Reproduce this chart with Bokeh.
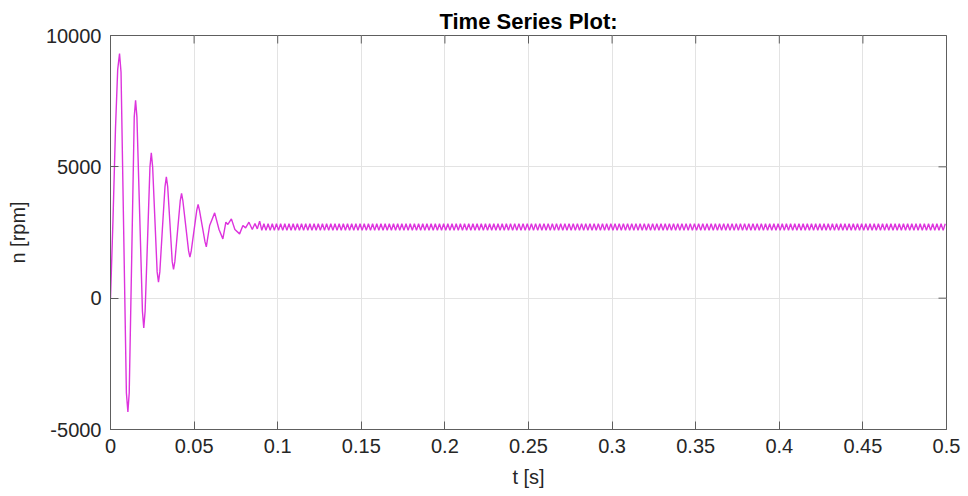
import math
from bokeh.plotting import figure
from bokeh.models import Range1d, FixedTicker, CustomJSTickFormatter, ColumnDataSource
from bokeh.embed import file_html
from bokeh.resources import INLINE

title_text = "Time Series Plot:"
x_label = "t [s]"
y_label = "n [rpm]"
x_ticks = [0, 0.05, 0.1, 0.15, 0.2, 0.25, 0.3, 0.35, 0.4, 0.45, 0.5]
y_ticks = [-5000, 0, 5000, 10000]

# transient part: points (time in ms, speed in rpm)
transient_t_ms = [0, 1.5, 3.0, 4.3, 5.4,
                  6.3, 7.9, 9.5, 10.4,
                  11.2, 12.7, 14.2, 15.0,
                  15.8, 17.45, 19.1, 19.9,
                  20.7, 22.15, 23.6, 24.4,
                  25.2, 26.55, 27.9, 28.7,
                  29.5, 31.0, 32.6, 33.4,
                  34.2, 35.55, 36.9, 37.7,
                  38.5, 40.1, 41.7, 42.5,
                  43.3, 45.0, 46.7, 47.5,
                  48.3, 49.9, 51.6, 52.4,
                  53.2, 54.85, 56.5, 57.3,
                  59.3, 62.3, 64.9, 67.2, 69.0, 70.2, 72.3, 74.4, 77.2, 79.2,
                  80.8, 82.8, 84.8, 86.4, 87.8, 89.2]
transient_n_rpm = [0, 3000, 6500, 8700, 9315,
                   8600, 2500, -3600, -4328,
                   -3600, 1600, 6900, 7537,
                   6900, 3200, -500, -1130,
                   -500, 2200, 5000, 5531,
                   5000, 3000, 1000, 609,
                   1000, 2600, 4250, 4618,
                   4250, 2850, 1400, 1091,
                   1400, 2550, 3700, 3985,
                   3700, 2750, 1800, 1560,
                   1800, 2550, 3350, 3566,
                   3350, 2750, 2150, 1954,
                   2767, 3247, 2615, 2257, 2893, 2805, 3019, 2615, 2448, 2767,
                   2676, 2893, 2615, 2843, 2638, 2931]

# steady-state ripple: turning points (time in ms)
ripple_t_ms = [
    90.5, 91.75, 93, 94.25, 95.5, 96.75, 98, 99.25,
    100.5, 101.75, 103, 104.25, 105.5, 106.75, 108, 109.25,
    110.5, 111.75, 113, 114.25, 115.5, 116.75, 118, 119.25,
    120.5, 121.75, 123, 124.25, 125.5, 126.75, 128, 129.25,
    130.5, 131.75, 133, 134.25, 135.5, 136.75, 138, 139.25,
    140.5, 141.75, 143, 144.25, 145.5, 146.75, 148, 149.25,
    150.5, 151.75, 153, 154.25, 155.5, 156.75, 158, 159.25,
    160.5, 161.75, 163, 164.25, 165.5, 166.75, 168, 169.25,
    170.5, 171.75, 173, 174.25, 175.5, 176.75, 178, 179.25,
    180.5, 181.75, 183, 184.25, 185.5, 186.75, 188, 189.25,
    190.5, 191.75, 193, 194.25, 195.5, 196.75, 198, 199.25,
    200.5, 201.75, 203, 204.25, 205.5, 206.75, 208, 209.25,
    210.5, 211.75, 213, 214.25, 215.5, 216.75, 218, 219.25,
    220.5, 221.75, 223, 224.25, 225.5, 226.75, 228, 229.25,
    230.5, 231.75, 233, 234.25, 235.5, 236.75, 238, 239.25,
    240.5, 241.75, 243, 244.25, 245.5, 246.75, 248, 249.25,
    250.5, 251.75, 253, 254.25, 255.5, 256.75, 258, 259.25,
    260.5, 261.75, 263, 264.25, 265.5, 266.75, 268, 269.25,
    270.5, 271.75, 273, 274.25, 275.5, 276.75, 278, 279.25,
    280.5, 281.75, 283, 284.25, 285.5, 286.75, 288, 289.25,
    290.5, 291.75, 293, 294.25, 295.5, 296.75, 298, 299.25,
    300.5, 301.75, 303, 304.25, 305.5, 306.75, 308, 309.25,
    310.5, 311.75, 313, 314.25, 315.5, 316.75, 318, 319.25,
    320.5, 321.75, 323, 324.25, 325.5, 326.75, 328, 329.25,
    330.5, 331.75, 333, 334.25, 335.5, 336.75, 338, 339.25,
    340.5, 341.75, 343, 344.25, 345.5, 346.75, 348, 349.25,
    350.5, 351.75, 353, 354.25, 355.5, 356.75, 358, 359.25,
    360.5, 361.75, 363, 364.25, 365.5, 366.75, 368, 369.25,
    370.5, 371.75, 373, 374.25, 375.5, 376.75, 378, 379.25,
    380.5, 381.75, 383, 384.25, 385.5, 386.75, 388, 389.25,
    390.5, 391.75, 393, 394.25, 395.5, 396.75, 398, 399.25,
    400.5, 401.75, 403, 404.25, 405.5, 406.75, 408, 409.25,
    410.5, 411.75, 413, 414.25, 415.5, 416.75, 418, 419.25,
    420.5, 421.75, 423, 424.25, 425.5, 426.75, 428, 429.25,
    430.5, 431.75, 433, 434.25, 435.5, 436.75, 438, 439.25,
    440.5, 441.75, 443, 444.25, 445.5, 446.75, 448, 449.25,
    450.5, 451.75, 453, 454.25, 455.5, 456.75, 458, 459.25,
    460.5, 461.75, 463, 464.25, 465.5, 466.75, 468, 469.25,
    470.5, 471.75, 473, 474.25, 475.5, 476.75, 478, 479.25,
    480.5, 481.75, 483, 484.25, 485.5, 486.75, 488, 489.25,
    490.5, 491.75, 493, 494.25, 495.5, 496.75, 498, 499.25,
]
ripple_n_rpm = [
    2580, 2830, 2580, 2830, 2580, 2830, 2580, 2830,
    2580, 2830, 2580, 2830, 2580, 2830, 2580, 2830,
    2580, 2830, 2580, 2830, 2580, 2830, 2580, 2830,
    2580, 2830, 2580, 2830, 2580, 2830, 2580, 2830,
    2580, 2830, 2580, 2830, 2580, 2830, 2580, 2830,
    2580, 2830, 2580, 2830, 2580, 2830, 2580, 2830,
    2580, 2830, 2580, 2830, 2580, 2830, 2580, 2830,
    2580, 2830, 2580, 2830, 2580, 2830, 2580, 2830,
    2580, 2830, 2580, 2830, 2580, 2830, 2580, 2830,
    2580, 2830, 2580, 2830, 2580, 2830, 2580, 2830,
    2580, 2830, 2580, 2830, 2580, 2830, 2580, 2830,
    2580, 2830, 2580, 2830, 2580, 2830, 2580, 2830,
    2580, 2830, 2580, 2830, 2580, 2830, 2580, 2830,
    2580, 2830, 2580, 2830, 2580, 2830, 2580, 2830,
    2580, 2830, 2580, 2830, 2580, 2830, 2580, 2830,
    2580, 2830, 2580, 2830, 2580, 2830, 2580, 2830,
    2580, 2830, 2580, 2830, 2580, 2830, 2580, 2830,
    2580, 2830, 2580, 2830, 2580, 2830, 2580, 2830,
    2580, 2830, 2580, 2830, 2580, 2830, 2580, 2830,
    2580, 2830, 2580, 2830, 2580, 2830, 2580, 2830,
    2580, 2830, 2580, 2830, 2580, 2830, 2580, 2830,
    2580, 2830, 2580, 2830, 2580, 2830, 2580, 2830,
    2580, 2830, 2580, 2830, 2580, 2830, 2580, 2830,
    2580, 2830, 2580, 2830, 2580, 2830, 2580, 2830,
    2580, 2830, 2580, 2830, 2580, 2830, 2580, 2830,
    2580, 2830, 2580, 2830, 2580, 2830, 2580, 2830,
    2580, 2830, 2580, 2830, 2580, 2830, 2580, 2830,
    2580, 2830, 2580, 2830, 2580, 2830, 2580, 2830,
    2580, 2830, 2580, 2830, 2580, 2830, 2580, 2830,
    2580, 2830, 2580, 2830, 2580, 2830, 2580, 2830,
    2580, 2830, 2580, 2830, 2580, 2830, 2580, 2830,
    2580, 2830, 2580, 2830, 2580, 2830, 2580, 2830,
    2580, 2830, 2580, 2830, 2580, 2830, 2580, 2830,
    2580, 2830, 2580, 2830, 2580, 2830, 2580, 2830,
    2580, 2830, 2580, 2830, 2580, 2830, 2580, 2830,
    2580, 2830, 2580, 2830, 2580, 2830, 2580, 2830,
    2580, 2830, 2580, 2830, 2580, 2830, 2580, 2830,
    2580, 2830, 2580, 2830, 2580, 2830, 2580, 2830,
    2580, 2830, 2580, 2830, 2580, 2830, 2580, 2830,
    2580, 2830, 2580, 2830, 2580, 2830, 2580, 2830,
    2580, 2830, 2580, 2830, 2580, 2830, 2580, 2830,
]

t_s = [v / 1000.0 for v in transient_t_ms + ripple_t_ms]
n_rpm = transient_n_rpm + ripple_n_rpm
src = ColumnDataSource(dict(t=t_s, n=n_rpm))

FONT = "Liberation Sans"
AX = "#5e5e5e"
TXT = "#262626"

x_lo, x_hi = x_ticks[0], x_ticks[-1]
y_lo, y_hi = y_ticks[0], y_ticks[-1]

p = figure(width=968, height=496, output_backend="svg", toolbar_location=None,
           x_range=Range1d(x_lo, x_hi), y_range=Range1d(y_lo, y_hi),
           min_border_left=110, min_border_right=22, min_border_top=35,
           min_border_bottom=67, background_fill_color="white",
           border_fill_color="white")

p.title.text = title_text
p.title.align = "center"
p.title.text_font = FONT
p.title.text_font_size = "22px"
p.title.text_font_style = "bold"
p.title.text_color = "#000000"
p.title.offset = 0
p.title.standoff = 4

p.outline_line_color = AX
p.outline_line_width = 1

xfmt = CustomJSTickFormatter(code="return String(Math.round(tick*100)/100);")
yfmt = CustomJSTickFormatter(code="return String(Math.round(tick));")


def style_axis(ax):
    ax.axis_line_color = AX
    ax.major_tick_line_color = AX
    ax.major_tick_in = 8
    ax.major_tick_out = 0
    ax.minor_tick_line_color = None
    ax.major_label_text_font = FONT
    ax.major_label_text_font_size = "20px"
    ax.major_label_text_color = TXT
    ax.axis_label_text_font = FONT
    ax.axis_label_text_font_size = "20px"
    ax.axis_label_text_font_style = "normal"
    ax.axis_label_text_color = TXT


xa = p.xaxis[0]
xa.ticker = FixedTicker(ticks=x_ticks)
xa.formatter = xfmt
xa.axis_label = x_label
style_axis(xa)
xa.major_label_standoff = 9
xa.axis_label_standoff = 10

ya = p.yaxis[0]
ya.ticker = FixedTicker(ticks=y_ticks)
ya.formatter = yfmt
ya.axis_label = y_label
style_axis(ya)
ya.major_label_standoff = 9
ya.axis_label_standoff = 14

p.xgrid.ticker = FixedTicker(ticks=x_ticks)
p.ygrid.ticker = FixedTicker(ticks=y_ticks)
for g in (p.xgrid[0], p.ygrid[0]):
    g.grid_line_color = "#e3e3e3"
    g.grid_line_width = 1

p.line("t", "n", source=src, line_color="#dd33dd", line_width=1.4)

# inward ticks on the top and right edges of the box (half of each dash is clipped)
p.scatter(x=x_ticks, y=[y_hi] * len(x_ticks), marker="dash", angle=math.pi / 2,
          size=16, line_color=AX, line_width=1)
p.scatter(x=[x_hi] * len(y_ticks), y=y_ticks, marker="dash", angle=0,
          size=16, line_color=AX, line_width=1)

open("out.html", "w").write(file_html(p, INLINE))
